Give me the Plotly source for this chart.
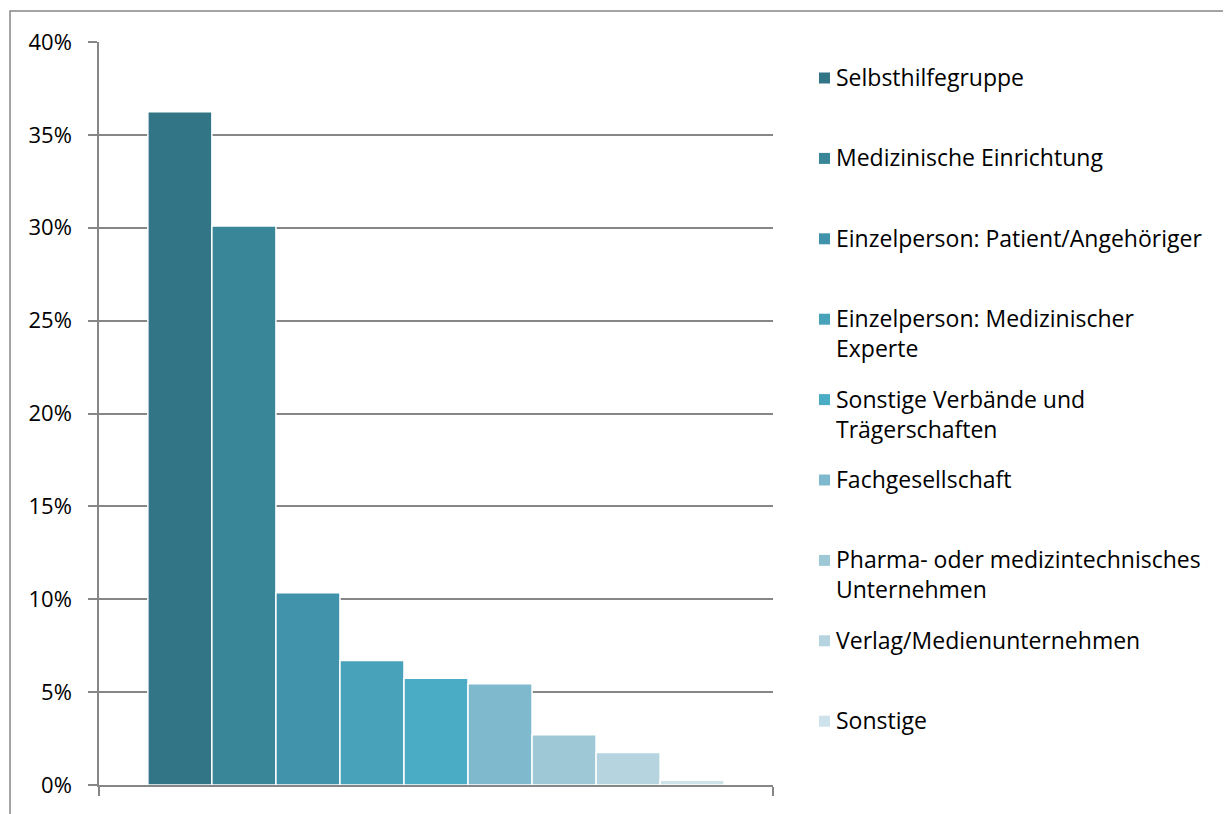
import plotly.graph_objects as go

# Anteile je Einsendertyp
categories = [
    "Selbsthilfegruppe",
    "Medizinische Einrichtung",
    "Einzelperson: Patient/Angehöriger",
    "Einzelperson: Medizinischer<br>Experte",
    "Sonstige Verbände und<br>Trägerschaften",
    "Fachgesellschaft",
    "Pharma- oder medizintechnisches<br>Unternehmen",
    "Verlag/Medienunternehmen",
    "Sonstige",
]
shares = [0.3625, 0.301, 0.1035, 0.067, 0.0575, 0.0545, 0.027, 0.0175, 0.0025]
colors = [
    "#327587", "#388698", "#4193AB", "#48A2BA", "#4BACC6",
    "#7EB9CE", "#9FC8D7", "#B5D4DF", "#CDE2EA",
]

FONT = "'Open Sans', Lato, sans-serif"
GRID = "#868686"

# plot area in pixels (page is drawn with ~7px body margin)
PLOT_W, PLOT_H = 674, 743
LEG_TOP, LEG_STEP = 36.0, 80.4    # px below plot top for first entry, spacing


fig = go.Figure()
for name, val, col in zip(categories, shares, colors):
    fig.add_trace(go.Bar(
        x=[0], y=[val], name=name.replace("<br>", " "),
        marker=dict(color=col, line=dict(color="white", width=1.5)),
        hovertemplate=name.replace("<br>", " ") + ": %{y:.1%}<extra></extra>",
    ))

# Legende rechts: Quadrat + Text, Quadrat auf Höhe der ersten Zeile
for i, (name, col) in enumerate(zip(categories, colors)):
    yc = 1 - (LEG_TOP + i * LEG_STEP) / PLOT_H
    half = 5.5 / PLOT_H
    fig.add_shape(
        type="rect", xref="paper", yref="paper",
        x0=1.0682, x1=1.0846, y0=yc - half, y1=yc + half,
        fillcolor=col, line=dict(width=0),
    )
    fig.add_annotation(
        text=name, xref="paper", yref="paper",
        x=1.0905, y=yc, xanchor="left", yanchor="top", yshift=19,
        align="left", showarrow=False,
        font=dict(family=FONT, size=23, color="black"),
    )

# Rahmen des Diagrammbereichs (rechts und unten abgeschnitten)
fig.add_shape(
    type="rect", xref="paper", yref="paper",
    x0=-0.132, x1=1.9, y0=-0.2, y1=1.0417,
    line=dict(color=GRID, width=1.5), layer="below",
)

fig.update_layout(
    width=1231, height=814,
    margin=dict(l=91, r=466, t=34, b=37, autoexpand=False),
    paper_bgcolor="white", plot_bgcolor="white",
    barmode="group", bargap=0.145, bargroupgap=0,
    font=dict(family=FONT, size=22, color="black"),
    showlegend=False,
    xaxis=dict(
        range=[-0.5, 0.5], tickvals=[-0.5, 0.5], ticktext=["", ""],
        ticks="outside", ticklen=9, tickcolor=GRID, tickwidth=1.5,
        showline=True, linecolor=GRID, linewidth=1.5,
        showgrid=False, zeroline=False, fixedrange=True,
    ),
    yaxis=dict(
        range=[0, 0.4], dtick=0.05, tickformat=".0%",
        ticks="outside", ticklen=9, tickcolor=GRID, tickwidth=1.5,
        ticklabelstandoff=12,
        showline=True, linecolor=GRID, linewidth=1.5,
        showgrid=True, gridcolor=GRID, gridwidth=1.5,
        zeroline=False, fixedrange=True,
        tickfont=dict(family=FONT, size=22, color="black"),
    ),
)

fig.write_html("out.html")
